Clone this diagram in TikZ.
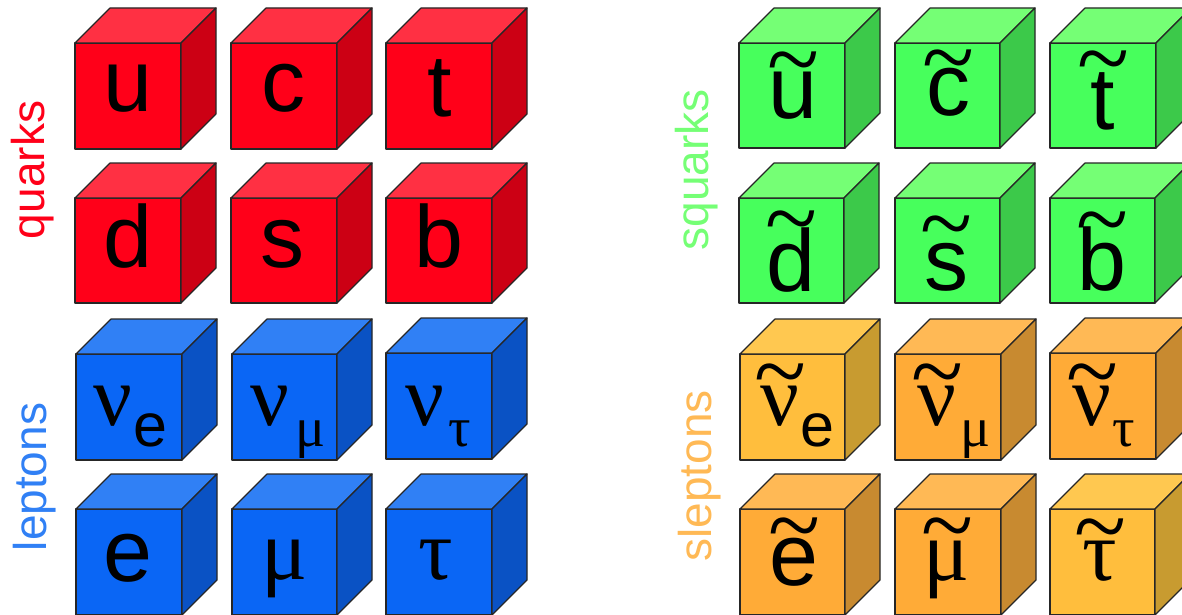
\documentclass[tikz,border=0pt]{standalone}
\usepackage{fontspec}
\setmainfont{Liberation Sans}
\newfontfamily\serifgreek{Liberation Serif}
\definecolor{redF}{HTML}{FF0019}\definecolor{redT}{HTML}{FF3043}\definecolor{redS}{HTML}{CC0014}
\definecolor{bluF}{HTML}{0A66F5}\definecolor{bluT}{HTML}{3080F5}\definecolor{bluS}{HTML}{0A52C4}
\definecolor{greF}{HTML}{47FF5C}\definecolor{greT}{HTML}{75FF75}\definecolor{greS}{HTML}{3CC94A}
\definecolor{yelF}{HTML}{FFBE3D}\definecolor{yelT}{HTML}{FFC850}\definecolor{yelS}{HTML}{C89B30}
\definecolor{oraF}{HTML}{FFAB37}\definecolor{oraT}{HTML}{FFB955}\definecolor{oraS}{HTML}{C88A30}
\tikzset{
  x=1pt,y=-1pt,
  facet/.style={draw=black!85,line width=1.2pt,line join=round},
  frontface/.style={facet,inner sep=0pt,outer sep=0pt,anchor=north west},
  sym/.style={anchor=base,inner sep=0pt,text=black},
  big/.style={sym,font=\fontsize{88}{88}\selectfont},
  grk/.style={sym,font=\serifgreek\fontsize{86}{86}\selectfont},
  sube/.style={sym,font=\fontsize{61}{61}\selectfont},
  subg/.style={sym,font=\serifgreek\fontsize{56}{56}\selectfont},
  grouplabel/.style={rotate=90,anchor=center,inner sep=0pt,font=\fontsize{46}{46}\selectfont}
}
% name, x, y, width, height, palette prefix
\newcommand{\cube}[6]{%
  \node[frontface,fill=#6F,minimum width=#4pt,minimum height=#5pt] (#1) at (#2,#3) {};
  \fill[#6T,facet] (#1.north west) -- ++(35,-35) -- ++(#4,0) -- (#1.north east) -- cycle;
  \fill[#6S,facet] (#1.north east) -- ++(35,-35) -- ++(0,#5) -- (#1.south east) -- cycle;
}
% raise, letter: one text, with the tilde centred above the letter
\newcommand{\tld}[2]{\ooalign{\hfil\raisebox{#1pt}{\serifgreek\fontsize{96}{96}\selectfont\textasciitilde}\hfil\cr\hfil#2\hfil\cr}}
\begin{document}
\begin{tikzpicture}
\useasboundingbox (0,0) rectangle (1182,615);
\clip (0,0) rectangle (1182,615);
% quarks
\cube{u}{75}{43}{106}{106}{red}
\cube{c}{231}{43}{106}{106}{red}
\cube{t}{386}{43}{106}{106}{red}
\cube{d}{75}{198}{106}{105}{red}
\cube{s}{231}{198}{106}{105}{red}
\cube{b}{386}{198}{106}{105}{red}
% leptons
\cube{ne}{76}{354}{106}{106}{blu}
\cube{nm}{232}{354}{105}{106}{blu}
\cube{nt}{386}{353}{106}{106}{blu}
\cube{e}{76}{509}{106}{106}{blu}
\cube{m}{232}{509}{105}{106}{blu}
\cube{ta}{386}{509}{106}{106}{blu}
% squarks
\cube{su}{739}{43}{106}{105}{gre}
\cube{sc}{895}{43}{105}{105}{gre}
\cube{st}{1050}{43}{106}{105}{gre}
\cube{sd}{739}{198}{105}{105}{gre}
\cube{ss}{895}{198}{105}{105}{gre}
\cube{sb}{1050}{198}{105}{105}{gre}
% sleptons
\cube{sne}{740}{354}{105}{106}{yel}
\cube{snm}{895}{354}{106}{106}{ora}
\cube{snt}{1050}{353}{106}{106}{ora}
\cube{se}{740}{509}{105}{106}{ora}
\cube{sm}{895}{509}{106}{106}{ora}
\cube{sta}{1050}{509}{105}{106}{yel}
% letters
\node[big] (lu) at (128,112) {u};
\node[big] (lc) at (283,112) {c};
\node[big] (lt) at (440,117) {t};
\node[big] (ld) at (128,267) {d};
\node[big] (ls) at (282,267) {s};
\node[big] (lb) at (439,267) {b};
\node[grk] (lne) at (113,425) {ν}; \node[sube] (lnes) at (150,446) {e};
\node[grk] (lnm) at (270,425) {ν}; \node[subg] (lnms) at (311,446) {μ};
\node[grk] (lnt) at (425,425) {ν}; \node[subg] (lnts) at (460,446) {τ};
\node[big] (le) at (128,581) {e};
\node[grk] (lm) at (285,579) {μ};
\node[grk] (lta) at (436,579) {τ};
\node[big] (lsu) at (793,118) {\tld{27}{u}};
\node[big] (lsc) at (948,116) {\tld{26}{c}};
\node[big] (lst) at (1103,129) {\tld{39}{t}};
\node[big] (lsd) at (791,291) {\tld{41}{d}};
\node[big] (lss) at (946,290) {\tld{35}{s}};
\node[big] (lsb) at (1102,290) {\tld{39}{b}};
\node[grk] (lsne) at (780,425) {\tld{22}{ν}}; \node[sube] (lsnes) at (817,446) {e};
\node[grk] (lsnm) at (937,425) {\tld{22}{ν}}; \node[subg] (lsnms) at (975,446) {μ};
\node[grk] (lsnt) at (1092,425) {\tld{22}{ν}}; \node[subg] (lsnts) at (1124,446) {τ};
\node[big] (lse) at (794,585) {\tld{28}{e}};
\node[grk] (lsm) at (947,580) {\tld{23}{μ}};
\node[grk] (lsta) at (1100,580) {\tld{22}{τ}};
% group labels
\node[grouplabel,text=redF] (lq) at (33,170) {quarks};
\node[grouplabel,text=bluT] (ll) at (35,477) {leptons};
\node[grouplabel,text=greT] (lsq) at (697,170) {squarks};
\node[grouplabel,text=oraT] (lsl) at (700,476) {sleptons};
\end{tikzpicture}
\end{document}
